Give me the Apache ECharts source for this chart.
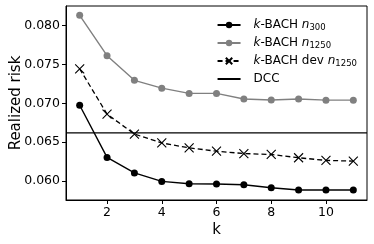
<!DOCTYPE html>
<html><head><meta charset="utf-8">
<script src="https://cdn.jsdelivr.net/npm/echarts@6/dist/echarts.min.js"></script>
<style>html,body{margin:0;padding:0;background:#fff}#c{width:374px;height:244px}</style>
</head><body><div id="c"></div>
<script>
const ks = [1,2,3,4,5,6,7,8,9,10,11];
const n300 = [0.06975,0.06304,0.06105,0.05996,0.05966,0.05962,0.05953,0.05915,0.05886,0.05886,0.05886];
const n1250 = [0.0813,0.07611,0.07295,0.07194,0.07127,0.07127,0.07055,0.07042,0.07055,0.0704,0.0704];
const dev1250 = [0.07443,0.06861,0.06604,0.0649,0.06427,0.06384,0.06354,0.06342,0.063,0.06266,0.06257];
const dccValue = [0.0662];
const xTicks = [2,4,6,8,10];
const yTicks = [0.060,0.065,0.070,0.075,0.080];
const names = ['n300','n1250','dev1250','DCC'];

const F = 'DejaVu Sans';
const chart = echarts.init(document.getElementById('c'));
const pair = arr => ks.map((k,i)=>[k,arr[i]]);
const cross = 'path://M0,0L10,10M10,0L0,10';
chart.setOption({
  animation:false,
  grid:{left:66,right:7,top:6,bottom:44,outerBoundsMode:'none',containLabel:false,show:true,borderColor:'#000',borderWidth:1,backgroundColor:'transparent'},
  legend:{
    right:17, top:19, orient:'vertical', itemGap:5, itemWidth:23, itemHeight:8, padding:0,
    data: names,
    formatter: function(n){
      if(n==='n300') return '{i|k}-BACH {i|n}{s|300}';
      if(n==='n1250') return '{i|k}-BACH {i|n}{s|1250}';
      if(n==='dev1250') return '{i|k}-BACH dev {i|n}{s|1250}';
      return 'DCC';
    },
    textStyle:{fontFamily:F,fontSize:12,color:'#000',padding:[0,0,0,8],
      rich:{i:{fontFamily:F,fontSize:12,fontStyle:'italic',color:'#000'},
            s:{fontFamily:F,fontSize:8.5,color:'#000',padding:[5,0,0,0]}}}
  },
  xAxis:{type:'value',min:0.5,max:11.5,
    name:'k',nameLocation:'middle',nameGap:23,nameMoveOverlap:false,nameTextStyle:{fontFamily:F,fontSize:15,color:'#000'},
    axisLine:{lineStyle:{color:'#000'}},splitLine:{show:false},
    axisTick:{show:true,length:4,customValues:xTicks,lineStyle:{color:'#000'}},
    axisLabel:{customValues:xTicks,fontFamily:F,fontSize:12.5,color:'#000',margin:6}},
  yAxis:{type:'value',min:0.05757,max:0.0825,
    name:'Realized risk',nameLocation:'middle',nameGap:42,nameMoveOverlap:false,nameTextStyle:{fontFamily:F,fontSize:15,color:'#000'},
    axisLine:{show:true,lineStyle:{color:'#000'}},splitLine:{show:false},
    axisTick:{show:true,length:4,customValues:yTicks,lineStyle:{color:'#000'}},
    axisLabel:{customValues:yTicks,fontFamily:F,fontSize:12.5,color:'#000',margin:6,formatter:v=>v.toFixed(3)}},
  series:[
    {name:'n300',type:'line',data:pair(n300),symbol:'circle',symbolSize:7,
     lineStyle:{color:'#000',width:1.4},itemStyle:{color:'#000'}},
    {name:'n1250',type:'line',data:pair(n1250),symbol:'circle',symbolSize:7,
     lineStyle:{color:'#808080',width:1.4},itemStyle:{color:'#808080'}},
    {name:'dev1250',type:'line',data:pair(dev1250),symbol:cross,symbolSize:9,
     lineStyle:{color:'#000',width:1.3,type:[5,3]},itemStyle:{color:'transparent',borderColor:'#000',borderWidth:1.1}},
    {name:'DCC',type:'line',data:[[0.5,dccValue[0]],[11.5,dccValue[0]]],symbol:'none',
     lineStyle:{color:'#000',width:1.4},itemStyle:{color:'rgba(0,0,0,0)'}}
  ]
});
</script></body></html>
